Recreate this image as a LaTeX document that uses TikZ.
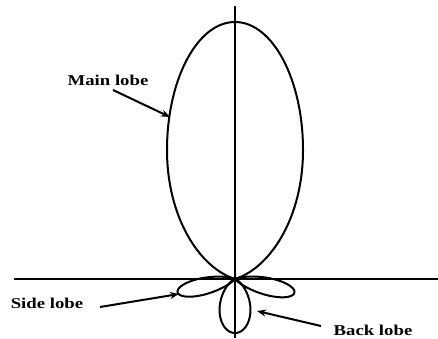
\documentclass[tikz,border=0pt]{standalone}
\usepackage{fontspec}
\setmainfont{Liberation Serif}
\usetikzlibrary{arrows.meta}
\begin{document}
\begin{tikzpicture}[x=1pt,y=1pt,
  axisline/.style={line width=2.2pt,black},
  lobe/.style={line width=2pt,black},
  pointer/.style={line width=2pt,-{Stealth[length=9pt,width=7pt]}},
  lbl/.style={font=\bfseries\fontsize{15}{15}\selectfont,inner sep=0pt,xscale=1.25}]
\useasboundingbox (0,0) rectangle (438,338);
\coordinate (O) at (235,59);
\coordinate (vtop) at (235,332);
\coordinate (vbot) at (235,0);
\coordinate (hl) at (14,59);
\coordinate (hr) at (438,59);
\coordinate (mL) at (167,188);
\coordinate (mT) at (235,316);
\coordinate (mR) at (303,188);
\draw[axisline] (vtop) -- (vbot);
\draw[axisline] (hl) -- (hr);
% main lobe
\draw[lobe] (O) .. controls (200,70) and (167,120) .. (mL)
  .. controls (167,258.7) and (197.5,316) .. (mT)
  .. controls (272.5,316) and (303,258.7) .. (mR)
  .. controls (303,120) and (270,70) .. (O);
% side lobes
\draw[lobe] plot[domain=-90:90,samples=160,smooth] ({235+59*(cos(\x))^18*cos(193+\x)},{59+59*(cos(\x))^18*sin(193+\x)});
\draw[lobe] plot[domain=-90:90,samples=160,smooth] ({235+61*(cos(\x))^18*cos(-13+\x)},{59+61*(cos(\x))^18*sin(-13+\x)});
% back lobe
\draw[lobe] plot[domain=-90:90,samples=160,smooth] ({235+54*(cos(\x))^4*cos(270+\x)},{59+54*(cos(\x))^4*sin(270+\x)});
% labels
\node[lbl] (main) at (108,258) {Main lobe};
\node[lbl] (side) at (47,35) {Side lobe};
\node[lbl] (back) at (373,8) {Back lobe};
\coordinate (mainS) at (113,248);
\coordinate (mainE) at (170,221);
\coordinate (sideS) at (100,31);
\coordinate (sideE) at (179,44);
\coordinate (backS) at (321,12);
\coordinate (backE) at (257,27);
\draw[pointer] (mainS) -- (mainE);
\draw[pointer] (sideS) -- (sideE);
\draw[pointer] (backS) -- (backE);
\end{tikzpicture}
\end{document}
